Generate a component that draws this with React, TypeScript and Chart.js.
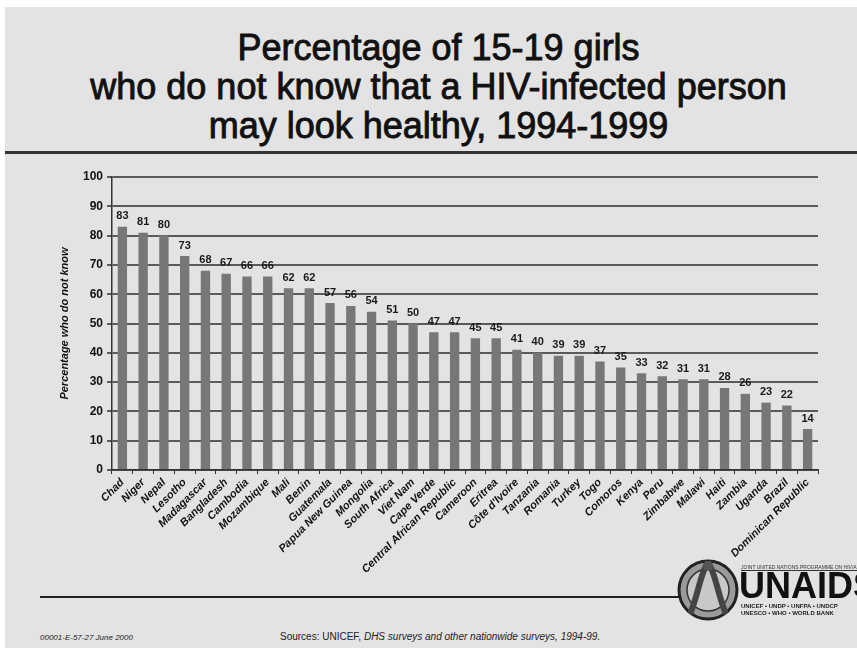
import React, { useEffect, useRef } from "react";
import { Chart, registerables } from "chart.js";

Chart.register(...registerables);

const countries = [
  "Chad", "Niger", "Nepal", "Lesotho", "Madagascar", "Bangladesh", "Cambodia",
  "Mozambique", "Mali", "Benin", "Guatemala", "Papua New Guinea", "Mongolia",
  "South Africa", "Viet Nam", "Cape Verde", "Central African Republic", "Cameroon",
  "Eritrea", "Côte d'Ivoire", "Tanzania", "Romania", "Turkey", "Togo", "Comoros",
  "Kenya", "Peru", "Zimbabwe", "Malawi", "Haiti", "Zambia", "Uganda", "Brazil",
  "Dominican Republic",
];

const percentNotKnowing = [
  83, 81, 80, 73, 68, 67, 66, 66, 62, 62, 57, 56, 54, 51, 50, 47, 47, 45, 45, 41,
  40, 39, 39, 37, 35, 33, 32, 31, 31, 28, 26, 23, 22, 14,
];

const titleLines = [
  "Percentage of 15-19 girls",
  "who do not know that a HIV-infected person",
  "may look healthy, 1994-1999",
];

const yAxisTitle = "Percentage who do not know";
const yMin = 0;
const yMax = 100;
const yStep = 10;

const FONT = "'Liberation Sans', Arial, Helvetica, sans-serif";

// Writes each bar's value just above its top.
const valueLabels = {
  id: "valueLabels",
  afterDatasetsDraw(chart: any) {
    const ctx = chart.ctx;
    const meta = chart.getDatasetMeta(0);
    const data = chart.data.datasets[0].data as number[];
    ctx.save();
    ctx.font = `bold 11px ${FONT}`;
    ctx.fillStyle = "#1a1a1a";
    ctx.textAlign = "center";
    ctx.textBaseline = "bottom";
    meta.data.forEach((bar: any, i: number) => {
      ctx.fillText(String(data[i]), bar.x, bar.y - 5);
    });
    ctx.restore();
  },
};

function BarChart() {
  const ref = useRef<HTMLCanvasElement | null>(null);

  useEffect(() => {
    if (!ref.current) return;
    const chart = new Chart(ref.current, {
      type: "bar",
      data: {
        labels: countries,
        datasets: [
          {
            data: percentNotKnowing,
            backgroundColor: "#777777",
            borderWidth: 0,
            barPercentage: 0.45,
            categoryPercentage: 1,
          },
        ],
      },
      options: {
        responsive: false,
        animation: false,
        layout: { padding: { left: 50, top: 17, right: 22, bottom: 0 } },
        plugins: {
          legend: { display: false },
          tooltip: { enabled: false },
          title: { display: false },
        },
        scales: {
          y: {
            min: yMin,
            max: yMax,
            ticks: {
              stepSize: yStep,
              color: "#111",
              font: { family: FONT, size: 12, weight: "bold" },
              padding: 4,
            },
            grid: { color: "#5a5a5a", lineWidth: 2, tickLength: 5 },
            border: { color: "#333", width: 1.5 },
            title: {
              display: true,
              text: yAxisTitle,
              color: "#111",
              font: { family: FONT, size: 11, weight: "bold", style: "italic" },
              padding: { top: 8, bottom: 0 },
            },
            afterFit: (s: any) => {
              s.width = 62;
            },
          },
          x: {
            ticks: {
              autoSkip: false,
              maxRotation: 45,
              minRotation: 45,
              color: "#111",
              font: { family: FONT, size: 11, weight: "bold", style: "italic" },
              padding: 2,
            },
            grid: { drawOnChartArea: false, tickLength: 4, color: "#333" },
            border: { color: "#333", width: 1.5 },
            afterFit: (s: any) => {
              s.height = 120;
            },
          },
        },
      },
      plugins: [valueLabels],
    });
    return () => chart.destroy();
  }, []);

  return (
    <canvas
      ref={ref}
      width={840}
      height={430}
      style={{ position: "absolute", left: 0, top: 160, width: 840, height: 430 }}
    />
  );
}

function Emblem() {
  return (
    <svg width="64" height="68" viewBox="0 0 64 68" style={{ position: "absolute", left: 676, top: 556 }}>
      <circle cx="32" cy="34" r="29" fill="#9a9a9a" stroke="#222" strokeWidth="3" />
      <circle cx="32" cy="34" r="21" fill="#c8c8c8" stroke="#333" strokeWidth="1.5" />
      <path d="M32 6 C24 18, 22 40, 14 58 M32 6 C40 18, 42 40, 50 58" stroke="#444" strokeWidth="6" fill="none" />
      <circle cx="32" cy="10" r="5" fill="#555" />
    </svg>
  );
}

export default function App() {
  return (
    <div
      style={{
        position: "fixed",
        left: 0,
        top: 0,
        width: 857,
        height: 648,
        overflow: "hidden",
        background: "#fff",
      }}
    >
      <div
        style={{
          position: "absolute",
          left: 5,
          top: 7,
          width: 852,
          height: 641,
          background: "#e3e3e3",
        }}
      />
      <div
        style={{
          position: "absolute",
          left: 10,
          top: 28,
          width: 857,
          textAlign: "center",
          fontFamily: FONT,
          fontSize: 36,
          lineHeight: "39px",
          color: "#111",
          WebkitTextStroke: "0.9px #111",
        }}
      >
        {titleLines.map((t) => (
          <div key={t}>{t}</div>
        ))}
      </div>
      <div style={{ position: "absolute", left: 5, top: 151, width: 852, height: 3, background: "#333" }} />
      <BarChart />
      <div style={{ position: "absolute", left: 40, top: 596, width: 640, height: 2, background: "#222" }} />
      <div
        style={{
          position: "absolute",
          left: 40,
          top: 633,
          fontFamily: FONT,
          fontSize: 8,
          fontStyle: "italic",
          color: "#222",
          whiteSpace: "nowrap",
        }}
      >
        00001-E-57-27 June 2000
      </div>
      <div
        style={{
          position: "absolute",
          left: 280,
          top: 631,
          fontFamily: FONT,
          fontSize: 10,
          color: "#222",
          whiteSpace: "nowrap",
        }}
      >
        Sources: UNICEF, <i>DHS surveys and other nationwide surveys, 1994-99.</i>
      </div>
      <Emblem />
      <div style={{ position: "absolute", left: 741, top: 564, fontFamily: FONT, fontSize: 5, color: "#333", whiteSpace: "nowrap", borderBottom: "1px solid #333" }}>
        JOINT UNITED NATIONS PROGRAMME ON HIV/AIDS
      </div>
      <div style={{ position: "absolute", left: 739, top: 566, fontFamily: FONT, fontSize: 36, fontWeight: "bold", color: "#111", lineHeight: "40px", whiteSpace: "nowrap" }}>
        UNAIDS
      </div>
      <div style={{ position: "absolute", left: 741, top: 603, fontFamily: FONT, fontSize: 6, fontWeight: "bold", color: "#222", whiteSpace: "nowrap", lineHeight: "7px" }}>
        UNICEF • UNDP • UNFPA • UNDCP
        <br />
        UNESCO • WHO • WORLD BANK
      </div>
    </div>
  );
}
